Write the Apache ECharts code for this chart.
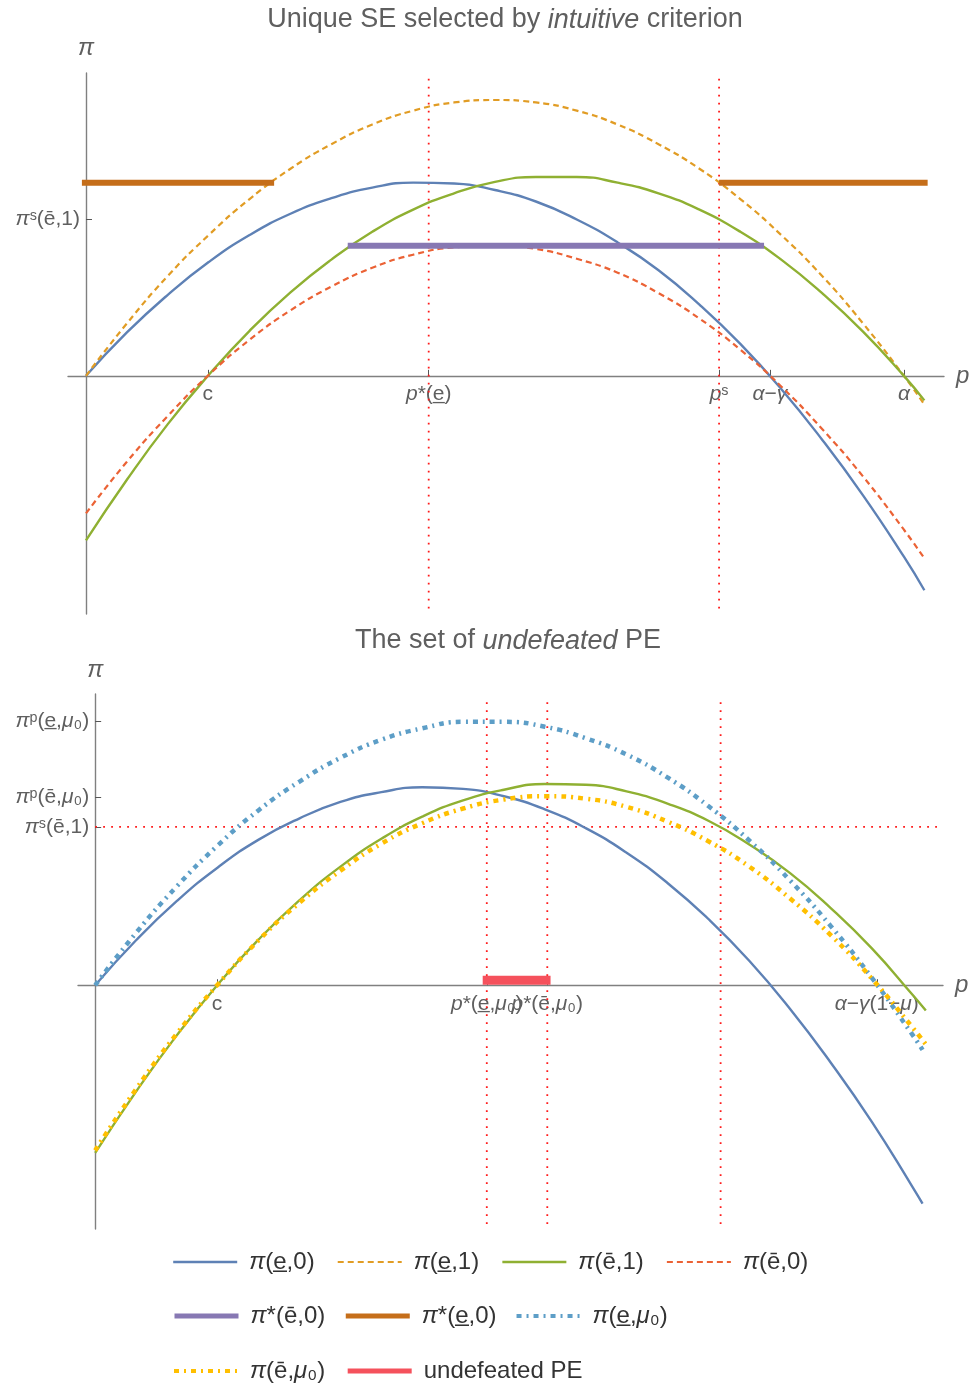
<!DOCTYPE html>
<html>
<head>
<meta charset="UTF-8">
<title>Unique SE / undefeated PE</title>
<script src="https://cdn.jsdelivr.net/npm/echarts@6/dist/echarts.min.js"></script>
<style>
  html, body { margin: 0; padding: 0; background: #fff; }
  #chart { width: 976px; height: 1387px; }
</style>
</head>
<body>
<div id="chart"></div>
<script>
// ---- data (p on the horizontal, profit on the vertical) ----

// top panel: Unique SE selected by intuitive criterion
const topP      = [0, 0.5, 1, 1.5, 2, 2.5, 3, 3.5, 4, 4.5, 5, 5.5, 6, 6.5, 7, 7.5, 8, 8.5, 9, 9.5, 10, 10.25];
const topBlue   = [0, 0.53, 0.99, 1.39, 1.72, 1.98, 2.17, 2.30, 2.36, 2.35, 2.27, 2.13, 1.91, 1.63, 1.29, 0.87, 0.39, -0.16, -0.78, -1.46, -2.21, -2.62];
const topOrange = [0, 0.64, 1.22, 1.72, 2.16, 2.53, 2.83, 3.07, 3.24, 3.34, 3.37, 3.34, 3.24, 3.07, 2.83, 2.53, 2.16, 1.72, 1.22, 0.64, 0, -0.35];
const topGreen  = [-2.01, -1.27, -0.59, 0.01, 0.55, 1.02, 1.42, 1.76, 2.03, 2.23, 2.37, 2.43, 2.43, 2.36, 2.23, 2.03, 1.76, 1.42, 1.01, 0.54, 0, -0.30];
const topRed    = [-1.68, -1.05, -0.49, 0.01, 0.44, 0.80, 1.09, 1.32, 1.48, 1.57, 1.59, 1.55, 1.43, 1.26, 1.01, 0.70, 0.32, -0.13, -0.65, -1.23, -1.88, -2.23];
const topPurple = [[3.20, 1.59], [8.29, 1.59]];
const topBrownL = [[-0.05, 2.36], [2.30, 2.36]];
const topBrownR = [[7.74, 2.36], [10.29, 2.36]];
const topGuideP = [4.19, 7.74];
const topGuideSpan = [3.63, -2.91];
const topXTicks = [1.49, 4.19, 7.74, 8.36, 10.0];
const topXText  = ['c', '{i|p}*(e̲)', '{i|p}ˢ', '{i|α}−{i|γ}', '{i|α}'];
const topYTicks = [1.91];
const topYText  = ['{i|π}ˢ(ē,1)'];

// bottom panel: The set of undefeated PE
const botP      = [0, 0.5, 1, 1.5, 2, 2.5, 3, 3.5, 4, 4.5, 5, 5.5, 6, 6.5, 7, 7.5, 8, 8.5, 9, 9.5, 10];
const botBlue   = [0, 0.55, 1.03, 1.44, 1.78, 2.04, 2.24, 2.36, 2.42, 2.40, 2.31, 2.15, 1.92, 1.62, 1.25, 0.81, 0.30, -0.29, -0.95, -1.67, -2.47];
const botGreen  = [-2.05, -1.30, -0.61, 0.01, 0.56, 1.04, 1.45, 1.79, 2.06, 2.26, 2.39, 2.46, 2.45, 2.37, 2.22, 2.01, 1.72, 1.37, 0.94, 0.45, -0.12];
const botBlueMu = [0, 0.64, 1.21, 1.71, 2.14, 2.49, 2.78, 3.00, 3.14, 3.22, 3.22, 3.16, 3.02, 2.82, 2.54, 2.19, 1.77, 1.28, 0.72, 0.09, -0.61];
const botYellow = [-2.02, -1.27, -0.59, 0.01, 0.55, 1.01, 1.40, 1.73, 1.98, 2.16, 2.27, 2.31, 2.28, 2.18, 2.00, 1.76, 1.45, 1.06, 0.61, 0.08, -0.52];
const botEnds   = { blue: [10.12, -2.67], green: [10.16, -0.31], blueMu: [10.12, -0.79], yellow: [10.18, -0.75] };
const botPE     = [[4.74, 0.06], [5.57, 0.06]];
const botGuideP = [4.79, 5.53, 7.65];
const botGuideSpan = [3.46, -2.98];
const botGuideLevel = 1.935;
const botGuideTo = 10.31;
const botXTicks = [1.49, 4.79, 5.53, 9.56];
const botXText  = ['c', '{i|p}*(e̲,{i|μ}₀)', '{i|p}*(ē,{i|μ}₀)', '{i|α}−{i|γ}(1−{i|μ})'];
const botYTicks = [1.935, 2.30, 3.23];
const botYText  = ['{i|π}ˢ(ē,1)', '{i|π}ᵖ(ē,{i|μ}₀)', '{i|π}ᵖ(e̲,{i|μ}₀)'];

const N_BLUE = 'π(e̲,0)', N_ORANGE = 'π(e̲,1)', N_GREEN = 'π(ē,1)', N_RED = 'π(ē,0)';
const N_PURPLE = 'π*(ē,0)', N_BROWN = 'π*(e̲,0)', N_BLUEMU = 'π(e̲,μ₀)', N_YELLOW = 'π(ē,μ₀)', N_PE = 'undefeated PE';

const FONT = 'Liberation Sans, Arial, sans-serif';
const GREY = '#5f5f5f';
const AXIS = '#808080';

// plot boxes and value ranges of the two panels
const grids = [
  { left: 68, top: 73, width: 876, height: 541 },
  { left: 78, top: 694, width: 865, height: 535 }
];
const xRange = [[-0.22, 10.49], [-0.21, 10.37]];
const yRange = [[-2.91, 3.70], [-2.98, 3.56]];

function zip(xs, ys, end) {
  const out = xs.map((x, i) => [x, ys[i]]);
  if (end) out.push(end);
  return out;
}

function pick(vals, texts) {
  return v => {
    let k = 0;
    for (let i = 1; i < vals.length; i++) {
      if (Math.abs(vals[i] - v) < Math.abs(vals[k] - v)) k = i;
    }
    return texts[k];
  };
}

function curve(name, data, color, width, type, gi) {
  return {
    name, type: 'line', data, xAxisIndex: gi, yAxisIndex: gi,
    smooth: true, symbol: 'none', silent: true,
    lineStyle: { color, width, type: type || 'solid' },
    itemStyle: { color },
    emphasis: { disabled: true }
  };
}

function guide(data, gi) {
  return {
    type: 'line', data, xAxisIndex: gi, yAxisIndex: gi,
    symbol: 'none', silent: true,
    lineStyle: { color: '#ff1a1a', width: 1.8, type: [1.8, 6.2] },
    emphasis: { disabled: true }
  };
}

const labelRich = { i: { fontStyle: 'italic', fontSize: 21, color: GREY, fontFamily: FONT } };

// axes sit on the zero lines: shift them in from the grid edge
function xAxisOf(gi, ticks, texts) {
  const [ymin, ymax] = yRange[gi];
  return {
    gridIndex: gi, type: 'value', min: xRange[gi][0], max: xRange[gi][1],
    position: 'bottom', offset: -grids[gi].height * (0 - ymin) / (ymax - ymin),
    name: 'p', nameLocation: 'end', nameGap: 12,
    nameTextStyle: { fontStyle: 'italic', fontSize: 24, color: GREY, fontFamily: FONT, verticalAlign: 'middle' },
    axisLine: { onZero: false, lineStyle: { color: AXIS, width: 1.4 } },
    axisTick: { show: true, inside: true, length: 6, customValues: ticks, lineStyle: { color: '#555' } },
    axisLabel: {
      customValues: ticks, formatter: pick(ticks, texts), margin: 8,
      fontSize: 21, color: GREY, fontFamily: FONT, rich: labelRich
    },
    splitLine: { show: false }
  };
}

function yAxisOf(gi, ticks, texts, gap) {
  const [xmin, xmax] = xRange[gi];
  return {
    gridIndex: gi, type: 'value', min: yRange[gi][0], max: yRange[gi][1],
    position: 'left', offset: -grids[gi].width * (0 - xmin) / (xmax - xmin),
    name: 'π', nameLocation: 'end', nameGap: gap,
    nameTextStyle: { fontStyle: 'italic', fontSize: 24, color: GREY, fontFamily: FONT },
    axisLine: { onZero: false, lineStyle: { color: AXIS, width: 1.4 } },
    axisTick: { show: true, inside: true, length: 6, customValues: ticks, lineStyle: { color: '#555' } },
    axisLabel: {
      customValues: ticks, formatter: pick(ticks, texts), margin: 6,
      fontSize: 21, color: GREY, fontFamily: FONT, rich: labelRich
    },
    splitLine: { show: false }
  };
}

const legendCommon = {
  orient: 'horizontal', itemWidth: 64, itemHeight: 14, itemGap: 22, padding: 0,
  selectedMode: false,
  itemStyle: { opacity: 0 },
  lineStyle: { width: 'inherit' },
  textStyle: {
    fontSize: 24, color: '#333', fontFamily: FONT, lineHeight: 28, padding: [0, 0, 0, 7],
    rich: { i: { fontStyle: 'italic', fontSize: 24, color: '#333', fontFamily: FONT, lineHeight: 28 } }
  },
  formatter: name => name.replace('π', '{i|π}').replace('μ', '{i|μ}')
};

const titleRich = {
  n: { fontSize: 27, fill: GREY, fontFamily: FONT },
  i: { fontSize: 27, fill: GREY, fontFamily: FONT, fontStyle: 'italic' }
};

const series = [];
topGuideP.forEach(p => series.push(guide([[p, topGuideSpan[0]], [p, topGuideSpan[1]]], 0)));
series.push(curve(N_BLUE, zip(topP, topBlue), '#5e81b5', 2.4, 'solid', 0));
series.push(curve(N_ORANGE, zip(topP, topOrange), '#e19c24', 2.2, [6, 4], 0));
series.push(curve(N_GREEN, zip(topP, topGreen), '#8fb032', 2.4, 'solid', 0));
series.push(curve(N_RED, zip(topP, topRed), '#eb6235', 2.2, [6, 4], 0));
series.push(curve(N_PURPLE, topPurple, '#8778b3', 6, 'solid', 0));
series.push(curve(N_BROWN, topBrownL, '#c56e1a', 6, 'solid', 0));
series.push(curve(N_BROWN, topBrownR, '#c56e1a', 6, 'solid', 0));

botGuideP.forEach(p => series.push(guide([[p, botGuideSpan[0]], [p, botGuideSpan[1]]], 1)));
series.push(guide([[0, botGuideLevel], [botGuideTo, botGuideLevel]], 1));
series.push(curve(N_BLUE, zip(botP, botBlue, botEnds.blue), '#5e81b5', 2.4, 'solid', 1));
series.push(curve(N_GREEN, zip(botP, botGreen, botEnds.green), '#8fb032', 2.4, 'solid', 1));
series.push(curve(N_BLUEMU, zip(botP, botBlueMu, botEnds.blueMu), '#5d9ec7', 4.5, [5, 5, 2, 5], 1));
series.push(curve(N_YELLOW, zip(botP, botYellow, botEnds.yellow), '#ffbf00', 4.5, [5, 5, 2, 5], 1));
series.push(curve(N_PE, botPE, '#f5515c', 9, 'solid', 1));

const chart = echarts.init(document.getElementById('chart'), null, { renderer: 'canvas' });
chart.setOption({
  animation: false,
  backgroundColor: '#fff',
  grid: grids.map(g => Object.assign({ outerBoundsMode: 'none' }, g)),
  xAxis: [xAxisOf(0, topXTicks, topXText), xAxisOf(1, botXTicks, botXText)],
  yAxis: [yAxisOf(0, topYTicks, topYText, 13), yAxisOf(1, botYTicks, botYText, 12)],
  legend: [
    Object.assign({}, legendCommon, { data: [N_BLUE, N_ORANGE, N_GREEN, N_RED], left: 172, top: 1248 }),
    Object.assign({}, legendCommon, {
      data: [{ name: N_PURPLE, lineStyle: { width: 5 } }, { name: N_BROWN, lineStyle: { width: 5 } }, { name: N_BLUEMU, lineStyle: { width: 4 } }],
      left: 172, top: 1302, itemGap: 18
    }),
    Object.assign({}, legendCommon, {
      data: [{ name: N_YELLOW, lineStyle: { width: 4 } }, { name: N_PE, lineStyle: { width: 5 } }],
      left: 172, top: 1357, itemGap: 20
    })
  ],
  graphic: [
    { type: 'text', x: 505, y: 20, silent: true,
      style: { text: '{n|Unique SE selected by }{i|intuitive}{n| criterion}', rich: titleRich, align: 'center', verticalAlign: 'middle' } },
    { type: 'text', x: 508, y: 641, silent: true,
      style: { text: '{n|The set of }{i|undefeated}{n| PE}', rich: titleRich, align: 'center', verticalAlign: 'middle' } }
  ],
  series
});
</script>
</body>
</html>
